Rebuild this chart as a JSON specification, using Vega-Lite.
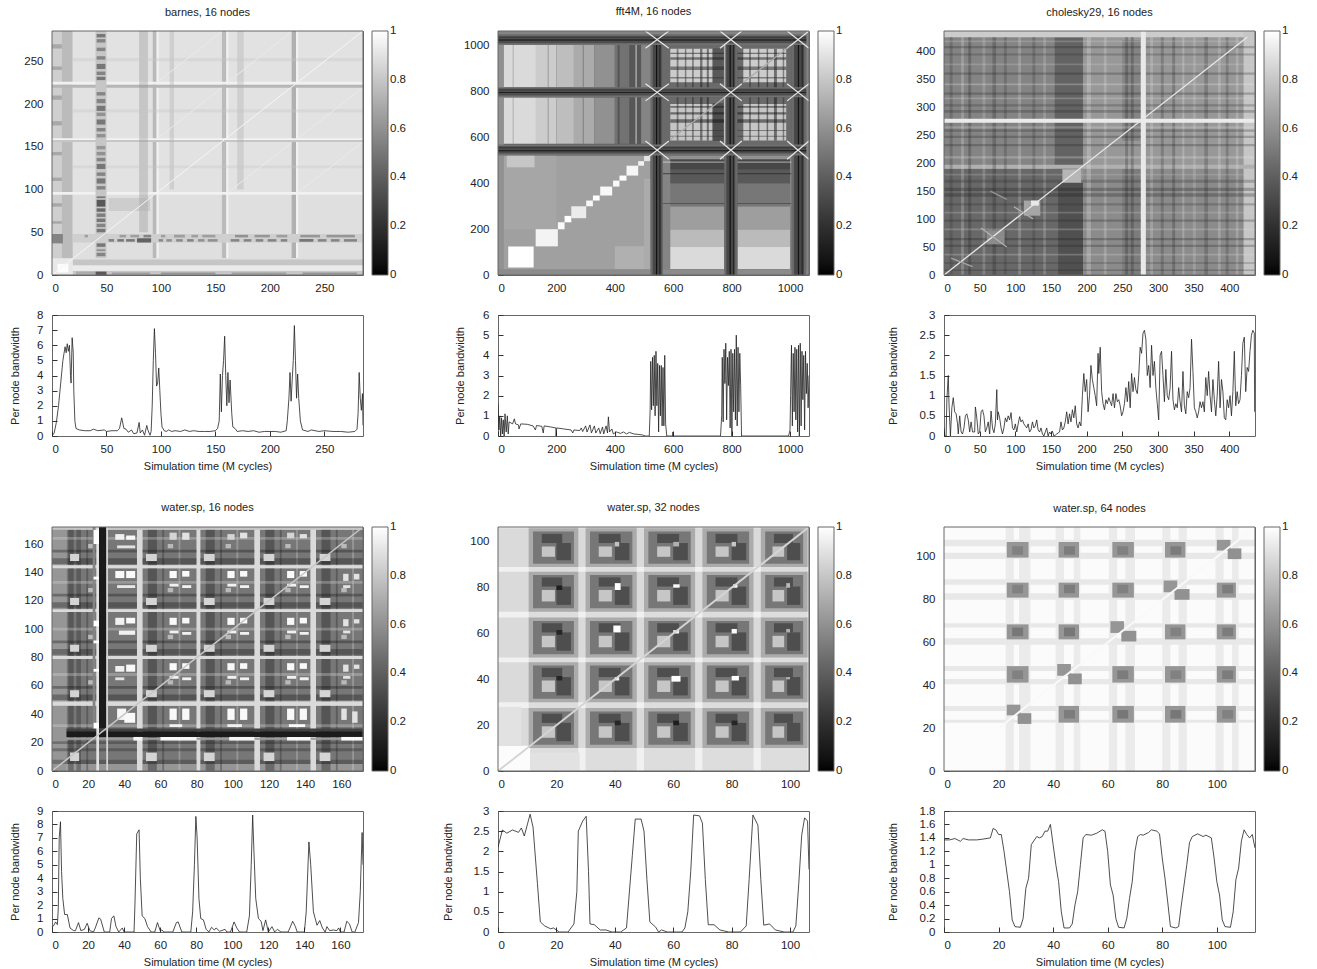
{"$schema":"https://vega.github.io/schema/vega-lite/v6.json","background":"white","padding":{"left":8,"top":5,"right":5,"bottom":5},
"config":{"font":"Liberation Sans","view":{"stroke":"#666"},"axis":{"grid":false,"domain":false,"tickSize":-5,"tickColor":"#333","labelFontSize":11.5,"labelColor":"#222","titleFontSize":11,"titleFontWeight":"normal","titleColor":"#222","zindex":1},"axisX":{"labelPadding":12,"titlePadding":6},"axisY":{"labelPadding":14},"title":{"fontSize":11,"fontWeight":"normal","color":"#222","offset":13},"legend":{"gradientLength":244,"gradientThickness":16,"offset":9,"labelFontSize":11.5,"labelColor":"#222","labelOffset":9,"labelOverlap":false,"gradientStrokeColor":"#666","gradientStrokeWidth":1,"gradientOpacity":1,"padding":0}},
"datasets":{
"h1":[{"a":0,"b":285.5,"c":0,"d":285.5,"v":0.89},{"a":0,"b":9,"c":20,"d":285.5,"v":0.83},{"a":9,"b":19,"c":20,"d":285.5,"v":0.76},{"a":19,"b":285.5,"c":97,"d":285.5,"v":0.9},{"a":50,"b":95,"c":50,"d":95,"v":0.92},{"a":19,"b":285.5,"c":48,"d":95,"v":0.89},{"a":92.5,"b":96,"c":20,"d":285.5,"v":0.75},{"a":156,"b":160,"c":20,"d":285.5,"v":0.76},{"a":220,"b":224,"c":20,"d":285.5,"v":0.72},{"a":96,"b":98,"c":20,"d":285.5,"v":0.95},{"a":160,"b":162,"c":20,"d":285.5,"v":0.95},{"a":224,"b":226,"c":20,"d":285.5,"v":0.95},{"a":0,"b":285.5,"c":94,"d":97,"v":0.95},{"a":0,"b":285.5,"c":158,"d":160,"v":0.96},{"a":0,"b":285.5,"c":155.5,"d":158,"v":0.8},{"a":0,"b":285.5,"c":219,"d":223,"v":0.74},{"a":0,"b":285.5,"c":223,"d":226,"v":0.95},{"a":19,"b":285.5,"c":11,"d":18,"v":0.8},{"a":19,"b":285.5,"c":0,"d":5,"v":0.8},{"a":0,"b":285.5,"c":5,"d":11,"v":0.93},{"a":0,"b":19,"c":0,"d":19,"v":0.92},{"a":5,"b":15,"c":3,"d":13,"v":0.99},{"a":40,"b":50,"c":20,"d":285.5,"v":0.8},{"a":19,"b":285.5,"c":38,"d":48,"v":0.83},{"a":0,"b":10,"c":37,"d":48,"v":0.55}],
"p1":[{"a":80,"b":88,"c":50,"d":285.5,"v":0.6},{"a":108,"b":112,"c":100,"d":285.5,"v":0.7},{"a":170,"b":176,"c":100,"d":285.5,"v":0.7},{"a":0,"b":9,"c":60,"d":63,"v":0.4},{"a":0,"b":9,"c":80,"d":84,"v":0.4},{"a":0,"b":9,"c":110,"d":114,"v":0.4},{"a":0,"b":9,"c":140,"d":144,"v":0.4},{"a":0,"b":9,"c":175,"d":180,"v":0.4},{"a":0,"b":9,"c":205,"d":210,"v":0.4},{"a":0,"b":9,"c":240,"d":244,"v":0.4},{"a":0,"b":9,"c":265,"d":270,"v":0.4},{"a":52,"b":90,"c":75,"d":90,"v":0.7},{"a":19,"b":285.5,"c":125,"d":128,"v":0.8},{"a":19,"b":285.5,"c":190,"d":194,"v":0.8},{"a":19,"b":285.5,"c":250,"d":254,"v":0.8}],
"t1":[{"a":41,"b":49,"c":22,"d":26,"v":0.55},{"a":41,"b":49,"c":28,"d":30,"v":0.6},{"a":41,"b":49,"c":33,"d":37,"v":0.5},{"a":41,"b":49,"c":50,"d":54,"v":0.5},{"a":41,"b":49,"c":56,"d":60,"v":0.55},{"a":41,"b":49,"c":62,"d":66,"v":0.5},{"a":41,"b":49,"c":68,"d":72,"v":0.52},{"a":41,"b":49,"c":74,"d":78,"v":0.45},{"a":41,"b":49,"c":80,"d":88,"v":0.38},{"a":41,"b":49,"c":90,"d":92,"v":0.5},{"a":41,"b":49,"c":100,"d":104,"v":0.55},{"a":41,"b":49,"c":107,"d":113,"v":0.5},{"a":41,"b":49,"c":116,"d":120,"v":0.55},{"a":41,"b":49,"c":124,"d":130,"v":0.5},{"a":41,"b":49,"c":133,"d":137,"v":0.55},{"a":41,"b":49,"c":140,"d":144,"v":0.6},{"a":41,"b":49,"c":147,"d":151,"v":0.62},{"a":41,"b":49,"c":161,"d":165,"v":0.6},{"a":41,"b":49,"c":168,"d":172,"v":0.55},{"a":41,"b":49,"c":176,"d":182,"v":0.5},{"a":41,"b":49,"c":186,"d":190,"v":0.6},{"a":41,"b":49,"c":192,"d":198,"v":0.5},{"a":41,"b":49,"c":201,"d":206,"v":0.55},{"a":41,"b":49,"c":210,"d":214,"v":0.55},{"a":41,"b":49,"c":228,"d":232,"v":0.5},{"a":41,"b":49,"c":234,"d":238,"v":0.55},{"a":41,"b":49,"c":241,"d":247,"v":0.5},{"a":41,"b":49,"c":252,"d":256,"v":0.55},{"a":41,"b":49,"c":262,"d":266,"v":0.55},{"a":41,"b":49,"c":272,"d":276,"v":0.55},{"a":41,"b":49,"c":278,"d":282,"v":0.5},
{"a":52,"b":57,"c":39,"d":42,"v":0.55},{"a":60,"b":66,"c":39,"d":42,"v":0.5},{"a":68,"b":76,"c":39,"d":42,"v":0.5},{"a":78,"b":91,"c":38,"d":43,"v":0.42},{"a":98,"b":102,"c":39,"d":42,"v":0.58},{"a":105,"b":110,"c":39,"d":42,"v":0.6},{"a":114,"b":120,"c":39,"d":42,"v":0.58},{"a":124,"b":130,"c":39,"d":42,"v":0.55},{"a":134,"b":140,"c":39,"d":42,"v":0.6},{"a":143,"b":152,"c":39,"d":42,"v":0.6},{"a":164,"b":172,"c":39,"d":42,"v":0.55},{"a":176,"b":183,"c":39,"d":42,"v":0.55},{"a":187,"b":194,"c":39,"d":42,"v":0.55},{"a":198,"b":206,"c":39,"d":42,"v":0.55},{"a":210,"b":216,"c":39,"d":42,"v":0.55},{"a":227,"b":240,"c":39,"d":42,"v":0.5},{"a":244,"b":252,"c":39,"d":42,"v":0.55},{"a":256,"b":264,"c":39,"d":42,"v":0.55},{"a":268,"b":280,"c":39,"d":42,"v":0.55},
{"a":30,"b":33,"c":44,"d":47,"v":0.65},{"a":62,"b":68,"c":44,"d":47,"v":0.65},{"a":72,"b":80,"c":44,"d":47,"v":0.65},{"a":84,"b":91,"c":44,"d":47,"v":0.55},{"a":100,"b":104,"c":44,"d":47,"v":0.65},{"a":112,"b":122,"c":44,"d":47,"v":0.65},{"a":128,"b":134,"c":44,"d":47,"v":0.65},{"a":138,"b":150,"c":44,"d":47,"v":0.65},{"a":168,"b":180,"c":44,"d":47,"v":0.6},{"a":186,"b":200,"c":44,"d":47,"v":0.62},{"a":206,"b":216,"c":44,"d":47,"v":0.65},{"a":228,"b":246,"c":44,"d":47,"v":0.62},{"a":252,"b":278,"c":44,"d":47,"v":0.62},
{"a":22,"b":40,"c":1,"d":4,"v":0.7},{"a":40,"b":50,"c":0,"d":4,"v":0.38},{"a":55,"b":90,"c":1,"d":3,"v":0.65},{"a":100,"b":150,"c":1,"d":3,"v":0.62},{"a":165,"b":215,"c":1,"d":3,"v":0.65},{"a":230,"b":280,"c":1,"d":3,"v":0.62}],
"d1":[{"a":0,"b":285,"c":0,"d":285,"v":0.97},{"a":97,"b":156,"c":160,"d":219,"v":0.93},{"a":97,"b":156,"c":226,"d":285,"v":0.93},{"a":162,"b":220,"c":97,"d":155,"v":0.93},{"a":162,"b":220,"c":226,"d":285,"v":0.93},{"a":226,"b":285,"c":97,"d":155,"v":0.93},{"a":226,"b":285,"c":160,"d":219,"v":0.93}],
"h2":[{"a":0,"b":1065,"c":0,"d":1065,"v":0.4},{"a":0,"b":522,"c":0,"d":522,"v":0.66},{"a":20,"b":200,"c":200,"d":522,"v":0.68},{"a":30,"b":125,"c":470,"d":522,"v":0.8},{"a":400,"b":522,"c":25,"d":125,"v":0.72},{"a":500,"b":522,"c":25,"d":420,"v":0.7},{"a":0,"b":20,"c":0,"d":1065,"v":0.6},
{"a":20,"b":130,"c":573,"d":775,"v":0.87},{"a":130,"b":200,"c":573,"d":775,"v":0.82},{"a":200,"b":260,"c":573,"d":775,"v":0.77},{"a":260,"b":330,"c":573,"d":775,"v":0.7},{"a":330,"b":400,"c":573,"d":775,"v":0.6},{"a":400,"b":450,"c":573,"d":775,"v":0.48},{"a":450,"b":490,"c":573,"d":775,"v":0.37},{"a":490,"b":525,"c":573,"d":775,"v":0.55},
{"a":20,"b":130,"c":820,"d":1004,"v":0.87},{"a":130,"b":200,"c":820,"d":1004,"v":0.82},{"a":200,"b":260,"c":820,"d":1004,"v":0.77},{"a":260,"b":330,"c":820,"d":1004,"v":0.7},{"a":330,"b":400,"c":820,"d":1004,"v":0.6},{"a":400,"b":450,"c":820,"d":1004,"v":0.48},{"a":450,"b":490,"c":820,"d":1004,"v":0.37},{"a":490,"b":525,"c":820,"d":1004,"v":0.55},
{"a":565,"b":775,"c":25,"d":125,"v":0.87},{"a":565,"b":775,"c":125,"d":200,"v":0.76},{"a":565,"b":775,"c":200,"d":300,"v":0.65},{"a":565,"b":775,"c":300,"d":400,"v":0.5},{"a":565,"b":775,"c":400,"d":460,"v":0.38},{"a":565,"b":775,"c":460,"d":505,"v":0.3},{"a":565,"b":775,"c":505,"d":522,"v":0.6},
{"a":820,"b":1005,"c":25,"d":125,"v":0.87},{"a":820,"b":1005,"c":125,"d":200,"v":0.76},{"a":820,"b":1005,"c":200,"d":300,"v":0.65},{"a":820,"b":1005,"c":300,"d":400,"v":0.5},{"a":820,"b":1005,"c":400,"d":460,"v":0.38},{"a":820,"b":1005,"c":460,"d":505,"v":0.3},{"a":820,"b":1005,"c":505,"d":522,"v":0.6},
{"a":565,"b":590,"c":25,"d":522,"v":0.55},{"a":1000,"b":1010,"c":25,"d":522,"v":0.55},
{"a":565,"b":775,"c":570,"d":776,"v":0.45},{"a":820,"b":1005,"c":570,"d":776,"v":0.45},{"a":565,"b":775,"c":820,"d":1004,"v":0.45},{"a":820,"b":1005,"c":820,"d":1004,"v":0.45},
{"a":590,"b":735,"c":587,"d":746,"v":0.8},{"a":840,"b":987,"c":587,"d":746,"v":0.8},{"a":590,"b":735,"c":841,"d":987,"v":0.82},{"a":840,"b":987,"c":841,"d":987,"v":0.82},
{"a":735,"b":772,"c":585,"d":750,"v":0.33},{"a":735,"b":772,"c":838,"d":990,"v":0.38},{"a":0,"b":1065,"c":0,"d":25,"v":0.58},
{"a":35,"b":122,"c":33,"d":124,"v":1},{"a":129,"b":205,"c":125,"d":200,"v":0.96},{"a":205,"b":228,"c":200,"d":230,"v":0.98},{"a":228,"b":251,"c":230,"d":258,"v":1},{"a":251,"b":302,"c":248,"d":300,"v":0.93},{"a":302,"b":325,"c":300,"d":325,"v":0.97},{"a":325,"b":348,"c":325,"d":347,"v":1},{"a":350,"b":391,"c":347,"d":386,"v":0.98},{"a":394,"b":416,"c":386,"d":412,"v":0.98},{"a":416,"b":440,"c":412,"d":434,"v":1},{"a":440,"b":480,"c":434,"d":477,"v":0.97},{"a":480,"b":500,"c":477,"d":497,"v":0.95},{"a":500,"b":522,"c":497,"d":520,"v":0.9}],
"p2":[{"a":612,"b":618,"c":587,"d":987,"v":0.2},{"a":640,"b":645,"c":587,"d":987,"v":0.2},{"a":665,"b":670,"c":587,"d":987,"v":0.1},{"a":692,"b":700,"c":587,"d":987,"v":0.1},{"a":715,"b":722,"c":587,"d":987,"v":0.1},{"a":860,"b":866,"c":587,"d":987,"v":0.2},{"a":890,"b":895,"c":587,"d":987,"v":0.1},{"a":920,"b":925,"c":587,"d":987,"v":0.1},{"a":945,"b":955,"c":587,"d":987,"v":0.05},{"a":975,"b":980,"c":587,"d":987,"v":0.2},{"a":590,"b":987,"c":603,"d":608,"v":0.2},{"a":590,"b":987,"c":628,"d":633,"v":0.2},{"a":590,"b":987,"c":665,"d":680,"v":0.05},{"a":590,"b":987,"c":700,"d":710,"v":0.05},{"a":590,"b":987,"c":730,"d":738,"v":0.1},{"a":590,"b":987,"c":858,"d":864,"v":0.2},{"a":590,"b":987,"c":895,"d":910,"v":0.15},{"a":590,"b":987,"c":940,"d":950,"v":0.1},{"a":590,"b":987,"c":965,"d":970,"v":0.1},{"a":565,"b":1005,"c":310,"d":314,"v":0.2},{"a":565,"b":1005,"c":440,"d":445,"v":0.1},{"a":565,"b":1005,"c":490,"d":495,"v":0.95},{"a":50,"b":54,"c":573,"d":1004,"v":0.6},{"a":170,"b":174,"c":573,"d":1004,"v":0.5},{"a":290,"b":294,"c":573,"d":1004,"v":0.4},{"a":410,"b":416,"c":573,"d":1004,"v":0.2},{"a":470,"b":476,"c":573,"d":1004,"v":0.9}],
"t2":[{"a":522,"b":565,"c":0,"d":1065,"v":0.45},{"a":530,"b":560,"c":0,"d":1065,"v":0.3},{"a":541,"b":545,"c":0,"d":1065,"v":0.05},{"a":553,"b":556,"c":0,"d":1065,"v":0.12},{"a":775,"b":820,"c":0,"d":1065,"v":0.45},{"a":782,"b":812,"c":0,"d":1065,"v":0.3},{"a":793,"b":797,"c":0,"d":1065,"v":0.05},{"a":805,"b":808,"c":0,"d":1065,"v":0.12},{"a":1005,"b":1056,"c":0,"d":1065,"v":0.45},{"a":1014,"b":1048,"c":0,"d":1065,"v":0.3},{"a":1027,"b":1031,"c":0,"d":1065,"v":0.05},{"a":1040,"b":1043,"c":0,"d":1065,"v":0.12},
{"a":0,"b":1065,"c":522,"d":570,"v":0.48},{"a":0,"b":1065,"c":530,"d":562,"v":0.33},{"a":0,"b":1065,"c":540,"d":544,"v":0.06},{"a":0,"b":1065,"c":553,"d":556,"v":0.18},{"a":0,"b":1065,"c":776,"d":820,"v":0.48},{"a":0,"b":1065,"c":784,"d":814,"v":0.33},{"a":0,"b":1065,"c":794,"d":798,"v":0.06},{"a":0,"b":1065,"c":806,"d":809,"v":0.18},{"a":0,"b":1065,"c":1004,"d":1052,"v":0.48},{"a":0,"b":1065,"c":1012,"d":1044,"v":0.33},{"a":0,"b":1065,"c":1024,"d":1028,"v":0.05},{"a":0,"b":1065,"c":1035,"d":1038,"v":0.18},{"a":1056,"b":1065,"c":0,"d":1065,"v":0.55},{"a":0,"b":1065,"c":1052,"d":1065,"v":0.55},{"a":775,"b":778,"c":573,"d":776,"v":0.92},{"a":775,"b":778,"c":820,"d":1004,"v":0.85}],
"d2":[{"a":505,"b":585,"c":505,"d":585,"v":0.92},{"a":505,"b":585,"c":585,"d":505,"v":0.92},{"a":760,"b":835,"c":505,"d":585,"v":0.92},{"a":760,"b":835,"c":585,"d":505,"v":0.92},{"a":990,"b":1065,"c":505,"d":585,"v":0.92},{"a":990,"b":1065,"c":585,"d":505,"v":0.92},{"a":505,"b":585,"c":760,"d":835,"v":0.92},{"a":505,"b":585,"c":835,"d":760,"v":0.92},{"a":760,"b":835,"c":760,"d":835,"v":0.92},{"a":760,"b":835,"c":835,"d":760,"v":0.92},{"a":990,"b":1065,"c":760,"d":835,"v":0.92},{"a":990,"b":1065,"c":835,"d":760,"v":0.92},{"a":505,"b":585,"c":990,"d":1065,"v":0.92},{"a":505,"b":585,"c":1065,"d":990,"v":0.92},{"a":760,"b":835,"c":990,"d":1065,"v":0.92},{"a":760,"b":835,"c":1065,"d":990,"v":0.92},{"a":990,"b":1065,"c":990,"d":1065,"v":0.92},{"a":990,"b":1065,"c":1065,"d":990,"v":0.92},{"a":590,"b":775,"c":590,"d":775,"v":0.7},{"a":840,"b":1000,"c":840,"d":1000,"v":0.7}],
"h3":[{"a":0,"b":436,"c":0,"d":436,"v":0.62},{"a":0,"b":190,"c":0,"d":190,"v":0.44},{"a":0,"b":155,"c":190,"d":425,"v":0.55},{"a":155,"b":195,"c":190,"d":425,"v":0.42},{"a":160,"b":195,"c":0,"d":165,"v":0.34},{"a":195,"b":436,"c":190,"d":425,"v":0.63},{"a":195,"b":436,"c":0,"d":190,"v":0.58},{"a":250,"b":275,"c":0,"d":190,"v":0.52},{"a":0,"b":436,"c":425,"d":436,"v":0.82},{"a":420,"b":436,"c":0,"d":436,"v":0.8},{"a":250,"b":275,"c":240,"d":420,"v":0.55},{"a":0,"b":436,"c":190,"d":197,"v":0.72}],
"p3":[{"a":8,"b":12,"c":0,"d":425,"v":0.2},{"a":24,"b":28,"c":0,"d":425,"v":0.9},{"a":34,"b":38,"c":0,"d":425,"v":0.1},{"a":54,"b":58,"c":0,"d":425,"v":0.85},{"a":68,"b":73,"c":0,"d":425,"v":0.1},{"a":84,"b":88,"c":0,"d":425,"v":0.2},{"a":104,"b":108,"c":0,"d":425,"v":0.9},{"a":124,"b":128,"c":0,"d":425,"v":0.2},{"a":139,"b":143,"c":0,"d":425,"v":0.85},{"a":200,"b":206,"c":0,"d":425,"v":0.95},{"a":224,"b":228,"c":0,"d":425,"v":0.9},{"a":254,"b":258,"c":0,"d":425,"v":0.1},{"a":262,"b":266,"c":0,"d":425,"v":0.1},{"a":289,"b":293,"c":0,"d":425,"v":0.9},{"a":304,"b":308,"c":0,"d":425,"v":0.15},{"a":320,"b":324,"c":0,"d":425,"v":0.1},{"a":334,"b":337,"c":0,"d":425,"v":0.95},{"a":349,"b":353,"c":0,"d":425,"v":0.85},{"a":365,"b":370,"c":0,"d":425,"v":0.15},{"a":384,"b":388,"c":0,"d":425,"v":0.9},{"a":395,"b":399,"c":0,"d":425,"v":0.2},{"a":409,"b":413,"c":0,"d":425,"v":0.9},
{"a":0,"b":436,"c":7,"d":10,"v":0.1},{"a":0,"b":436,"c":20,"d":23,"v":0.15},{"a":0,"b":436,"c":35,"d":38,"v":0.9},{"a":0,"b":436,"c":50,"d":54,"v":0.1},{"a":0,"b":436,"c":62,"d":66,"v":0.05},{"a":0,"b":436,"c":80,"d":83,"v":0.9},{"a":0,"b":436,"c":95,"d":99,"v":0.1},{"a":0,"b":436,"c":110,"d":113,"v":0.85},{"a":0,"b":436,"c":124,"d":128,"v":0.15},{"a":0,"b":436,"c":140,"d":146,"v":0.05},{"a":0,"b":436,"c":150,"d":156,"v":0.05},{"a":0,"b":436,"c":165,"d":170,"v":0.15},{"a":0,"b":436,"c":178,"d":181,"v":0.8},{"a":0,"b":436,"c":208,"d":212,"v":0.95},{"a":0,"b":436,"c":230,"d":234,"v":0.1},{"a":0,"b":436,"c":245,"d":249,"v":0.1},{"a":0,"b":436,"c":256,"d":260,"v":0.1},{"a":0,"b":436,"c":262,"d":266,"v":0.9},{"a":0,"b":436,"c":290,"d":295,"v":0.1},{"a":0,"b":436,"c":301,"d":305,"v":0.15},{"a":0,"b":436,"c":314,"d":317,"v":0.9},{"a":0,"b":436,"c":322,"d":326,"v":0.1},{"a":0,"b":436,"c":339,"d":342,"v":0.98},{"a":0,"b":436,"c":358,"d":362,"v":0.1},{"a":0,"b":436,"c":375,"d":378,"v":0.85},{"a":0,"b":436,"c":392,"d":396,"v":0.15},{"a":0,"b":436,"c":405,"d":409,"v":0.1},{"a":0,"b":436,"c":416,"d":419,"v":0.85}],
"t3":[{"a":276,"b":283,"c":0,"d":436,"v":0.92},{"a":0,"b":436,"c":272,"d":279,"v":0.93},{"a":166,"b":192,"c":165,"d":189,"v":0.74},{"a":112,"b":135,"c":106,"d":133,"v":0.68},{"a":122,"b":133,"c":124,"d":133,"v":0.92},{"a":60,"b":85,"c":55,"d":80,"v":0.58}],
"d3":[{"a":0,"b":425,"c":0,"d":425,"v":0.92},{"a":52,"b":88,"c":84,"d":50,"v":0.72},{"a":98,"b":125,"c":122,"d":100,"v":0.72},{"a":10,"b":40,"c":30,"d":15,"v":0.68},{"a":65,"b":88,"c":150,"d":135,"v":0.62}],
"h4":[{"a":0,"b":172,"c":0,"d":172,"v":0.8},{"a":0,"b":8,"c":0,"d":172,"v":0.62},{"a":8,"b":172,"c":0,"d":5,"v":0.62},{"a":8,"b":47,"c":5,"d":46,"v":0.5},{"a":50,"b":80,"c":5,"d":46,"v":0.5},{"a":82,"b":112,"c":5,"d":46,"v":0.5},{"a":115,"b":143,"c":5,"d":46,"v":0.5},{"a":146,"b":172,"c":5,"d":46,"v":0.5},{"a":8,"b":47,"c":49,"d":79,"v":0.5},{"a":50,"b":80,"c":49,"d":79,"v":0.5},{"a":82,"b":112,"c":49,"d":79,"v":0.5},{"a":115,"b":143,"c":49,"d":79,"v":0.5},{"a":146,"b":172,"c":49,"d":79,"v":0.5},{"a":8,"b":47,"c":81,"d":112,"v":0.5},{"a":50,"b":80,"c":81,"d":112,"v":0.5},{"a":82,"b":112,"c":81,"d":112,"v":0.5},{"a":115,"b":143,"c":81,"d":112,"v":0.5},{"a":146,"b":172,"c":81,"d":112,"v":0.5},{"a":8,"b":47,"c":114,"d":143,"v":0.5},{"a":50,"b":80,"c":114,"d":143,"v":0.5},{"a":82,"b":112,"c":114,"d":143,"v":0.5},{"a":115,"b":143,"c":114,"d":143,"v":0.5},{"a":146,"b":172,"c":114,"d":143,"v":0.5},{"a":8,"b":47,"c":145,"d":170,"v":0.5},{"a":50,"b":80,"c":145,"d":170,"v":0.5},{"a":82,"b":112,"c":145,"d":170,"v":0.5},{"a":115,"b":143,"c":145,"d":170,"v":0.5},{"a":146,"b":172,"c":145,"d":170,"v":0.5}],
"p4":[{"a":9,"b":12,"c":0,"d":172,"v":0.05},{"a":13.5,"b":16,"c":0,"d":172,"v":0.1},{"a":19,"b":20,"c":0,"d":172,"v":0.1},{"a":53,"b":58,"c":0,"d":172,"v":0.02},{"a":61,"b":62,"c":0,"d":172,"v":0.1},{"a":70,"b":71,"c":0,"d":172,"v":0.9},{"a":85,"b":90,"c":0,"d":172,"v":0.02},{"a":93,"b":94,"c":0,"d":172,"v":0.1},{"a":102,"b":103,"c":0,"d":172,"v":0.9},{"a":118,"b":123,"c":0,"d":172,"v":0.02},{"a":126,"b":127,"c":0,"d":172,"v":0.1},{"a":135,"b":136,"c":0,"d":172,"v":0.9},{"a":149,"b":154,"c":0,"d":172,"v":0.02},{"a":157,"b":158,"c":0,"d":172,"v":0.1},{"a":166,"b":167,"c":0,"d":172,"v":0.9},
{"a":0,"b":172,"c":5,"d":8,"v":0.1},{"a":0,"b":172,"c":14,"d":16,"v":0.1},{"a":0,"b":172,"c":19,"d":21,"v":0.1},{"a":0,"b":172,"c":31,"d":33,"v":0.9},{"a":0,"b":172,"c":50,"d":54,"v":0.02},{"a":0,"b":172,"c":58,"d":60,"v":0.02},{"a":0,"b":172,"c":67,"d":69,"v":0.9},{"a":0,"b":172,"c":82,"d":86,"v":0.02},{"a":0,"b":172,"c":90,"d":92,"v":0.02},{"a":0,"b":172,"c":99,"d":101,"v":0.9},{"a":0,"b":172,"c":115,"d":119,"v":0.02},{"a":0,"b":172,"c":123,"d":125,"v":0.02},{"a":0,"b":172,"c":132,"d":134,"v":0.9},{"a":0,"b":172,"c":146,"d":150,"v":0.02},{"a":0,"b":172,"c":154,"d":156,"v":0.02},{"a":0,"b":172,"c":163,"d":165,"v":0.9}],
"t4":[{"a":47,"b":50,"c":0,"d":172,"v":0.87},{"a":80,"b":82,"c":0,"d":172,"v":0.87},{"a":112,"b":115,"c":0,"d":172,"v":0.87},{"a":143,"b":146,"c":0,"d":172,"v":0.87},{"a":0,"b":172,"c":46,"d":49,"v":0.87},{"a":0,"b":172,"c":79,"d":81,"v":0.87},{"a":0,"b":172,"c":112,"d":114,"v":0.87},{"a":0,"b":172,"c":143,"d":145,"v":0.87},{"a":0,"b":172,"c":170,"d":172,"v":0.8},
{"a":10,"b":15,"c":7,"d":13,"v":0.85},{"a":52,"b":58,"c":7,"d":13,"v":0.85},{"a":84,"b":90,"c":7,"d":13,"v":0.85},{"a":117,"b":123,"c":7,"d":13,"v":0.85},{"a":148,"b":154,"c":7,"d":13,"v":0.85},{"a":10,"b":15,"c":52,"d":57,"v":0.85},{"a":52,"b":58,"c":52,"d":57,"v":0.85},{"a":84,"b":90,"c":52,"d":57,"v":0.85},{"a":117,"b":123,"c":52,"d":57,"v":0.85},{"a":148,"b":154,"c":52,"d":57,"v":0.85},{"a":10,"b":15,"c":84,"d":89,"v":0.85},{"a":52,"b":58,"c":84,"d":89,"v":0.85},{"a":84,"b":90,"c":84,"d":89,"v":0.85},{"a":117,"b":123,"c":84,"d":89,"v":0.85},{"a":148,"b":154,"c":84,"d":89,"v":0.85},{"a":10,"b":15,"c":117,"d":122,"v":0.85},{"a":52,"b":58,"c":117,"d":122,"v":0.85},{"a":84,"b":90,"c":117,"d":122,"v":0.85},{"a":117,"b":123,"c":117,"d":122,"v":0.85},{"a":148,"b":154,"c":117,"d":122,"v":0.85},{"a":10,"b":15,"c":148,"d":153,"v":0.85},{"a":52,"b":58,"c":148,"d":153,"v":0.85},{"a":84,"b":90,"c":148,"d":153,"v":0.85},{"a":117,"b":123,"c":148,"d":153,"v":0.85},{"a":148,"b":154,"c":148,"d":153,"v":0.85},
{"a":20,"b":23,"c":61,"d":64,"v":0.75},{"a":64,"b":67,"c":61,"d":64,"v":0.75},{"a":96,"b":99,"c":61,"d":64,"v":0.75},{"a":129,"b":132,"c":61,"d":64,"v":0.75},{"a":160,"b":163,"c":61,"d":64,"v":0.75},{"a":20,"b":23,"c":93,"d":96,"v":0.75},{"a":64,"b":67,"c":93,"d":96,"v":0.75},{"a":96,"b":99,"c":93,"d":96,"v":0.75},{"a":129,"b":132,"c":93,"d":96,"v":0.75},{"a":160,"b":163,"c":93,"d":96,"v":0.75},{"a":20,"b":23,"c":126,"d":129,"v":0.75},{"a":64,"b":67,"c":126,"d":129,"v":0.75},{"a":96,"b":99,"c":126,"d":129,"v":0.75},{"a":129,"b":132,"c":126,"d":129,"v":0.75},{"a":160,"b":163,"c":126,"d":129,"v":0.75},{"a":20,"b":23,"c":157,"d":160,"v":0.75},{"a":64,"b":67,"c":157,"d":160,"v":0.75},{"a":96,"b":99,"c":157,"d":160,"v":0.75},{"a":129,"b":132,"c":157,"d":160,"v":0.75},{"a":160,"b":163,"c":157,"d":160,"v":0.75},
{"a":65,"b":69,"c":71,"d":76,"v":0.98},{"a":72,"b":76,"c":72,"d":76,"v":0.98},{"a":65,"b":70,"c":65,"d":67,"v":0.95},{"a":72,"b":77,"c":64,"d":66,"v":0.95},{"a":97,"b":101,"c":71,"d":76,"v":0.98},{"a":104,"b":108,"c":72,"d":76,"v":0.98},{"a":97,"b":102,"c":65,"d":67,"v":0.95},{"a":104,"b":109,"c":64,"d":66,"v":0.95},{"a":130,"b":134,"c":71,"d":76,"v":0.98},{"a":137,"b":141,"c":72,"d":76,"v":0.98},{"a":130,"b":135,"c":65,"d":67,"v":0.95},{"a":137,"b":142,"c":64,"d":66,"v":0.95},{"a":161,"b":164,"c":70,"d":75,"v":0.9},{"a":167,"b":170,"c":72,"d":75,"v":0.9},{"a":161,"b":165,"c":65,"d":67,"v":0.9},
{"a":65,"b":69,"c":103,"d":108,"v":0.98},{"a":72,"b":76,"c":104,"d":108,"v":0.98},{"a":65,"b":70,"c":97,"d":99,"v":0.95},{"a":72,"b":77,"c":96,"d":98,"v":0.95},{"a":97,"b":101,"c":103,"d":108,"v":0.98},{"a":104,"b":108,"c":104,"d":108,"v":0.98},{"a":97,"b":102,"c":97,"d":99,"v":0.95},{"a":104,"b":109,"c":96,"d":98,"v":0.95},{"a":130,"b":134,"c":103,"d":108,"v":0.98},{"a":137,"b":141,"c":104,"d":108,"v":0.98},{"a":130,"b":135,"c":97,"d":99,"v":0.95},{"a":137,"b":142,"c":96,"d":98,"v":0.95},{"a":161,"b":164,"c":102,"d":107,"v":0.9},{"a":167,"b":170,"c":104,"d":107,"v":0.9},{"a":161,"b":165,"c":97,"d":99,"v":0.9},
{"a":65,"b":69,"c":136,"d":141,"v":0.98},{"a":72,"b":76,"c":137,"d":141,"v":0.98},{"a":65,"b":70,"c":130,"d":132,"v":0.95},{"a":72,"b":77,"c":129,"d":131,"v":0.95},{"a":97,"b":101,"c":136,"d":141,"v":0.98},{"a":104,"b":108,"c":137,"d":141,"v":0.98},{"a":97,"b":102,"c":130,"d":132,"v":0.95},{"a":104,"b":109,"c":129,"d":131,"v":0.95},{"a":130,"b":134,"c":136,"d":141,"v":0.98},{"a":137,"b":141,"c":137,"d":141,"v":0.98},{"a":130,"b":135,"c":130,"d":132,"v":0.95},{"a":137,"b":142,"c":129,"d":131,"v":0.95},{"a":161,"b":164,"c":134,"d":139,"v":0.9},{"a":167,"b":170,"c":135,"d":139,"v":0.9},{"a":161,"b":165,"c":129,"d":131,"v":0.9},
{"a":65,"b":69,"c":163,"d":168,"v":0.85},{"a":72,"b":76,"c":163,"d":168,"v":0.9},{"a":97,"b":101,"c":163,"d":167,"v":0.85},{"a":104,"b":108,"c":164,"d":168,"v":0.9},{"a":130,"b":134,"c":164,"d":168,"v":0.85},{"a":137,"b":141,"c":164,"d":167,"v":0.9},
{"a":35,"b":40,"c":70,"d":74,"v":0.95},{"a":41,"b":46,"c":70,"d":75,"v":0.98},{"a":35,"b":40,"c":64,"d":66,"v":0.9},{"a":35,"b":40,"c":103,"d":108,"v":0.95},{"a":41,"b":46,"c":104,"d":108,"v":0.98},{"a":37,"b":46,"c":96,"d":99,"v":0.95},{"a":35,"b":40,"c":136,"d":141,"v":0.98},{"a":41,"b":46,"c":136,"d":141,"v":0.98},{"a":36,"b":46,"c":129,"d":131,"v":0.92},{"a":35,"b":40,"c":163,"d":167,"v":0.95},{"a":41,"b":46,"c":163,"d":166,"v":0.98},{"a":36,"b":46,"c":157,"d":159,"v":0.9},
{"a":65,"b":69,"c":36,"d":44,"v":0.98},{"a":72,"b":76,"c":36,"d":44,"v":0.98},{"a":65,"b":72,"c":31,"d":33,"v":0.95},{"a":97,"b":101,"c":36,"d":44,"v":0.98},{"a":104,"b":108,"c":36,"d":44,"v":0.98},{"a":97,"b":105,"c":31,"d":33,"v":0.95},{"a":130,"b":134,"c":36,"d":44,"v":0.98},{"a":137,"b":141,"c":36,"d":44,"v":0.98},{"a":131,"b":140,"c":31,"d":33,"v":0.98},{"a":160,"b":163,"c":36,"d":44,"v":0.9},{"a":166,"b":169,"c":34,"d":42,"v":0.9},{"a":36,"b":41,"c":36,"d":44,"v":0.97},{"a":40,"b":46,"c":34,"d":41,"v":0.98},
{"a":8,"b":172,"c":28,"d":30,"v":0.28},{"a":8,"b":172,"c":24,"d":28,"v":0.1},{"a":8,"b":172,"c":22,"d":23.5,"v":0.65},{"a":60,"b":80,"c":21.5,"d":24,"v":0.97},{"a":98,"b":112,"c":21.5,"d":24,"v":0.97},{"a":130,"b":143,"c":21.5,"d":24,"v":0.97},{"a":160,"b":172,"c":21.5,"d":24,"v":0.98},{"a":45,"b":50,"c":21.5,"d":24,"v":0.97},{"a":26,"b":30,"c":30,"d":172,"v":0.1},{"a":24.5,"b":26,"c":0,"d":172,"v":0.9},{"a":22.5,"b":24,"c":30,"d":172,"v":0.55},{"a":30,"b":31,"c":0,"d":172,"v":0.85},{"a":23,"b":26,"c":160,"d":170,"v":1},{"a":23,"b":26,"c":135,"d":137,"v":1},{"a":23,"b":26,"c":102,"d":106,"v":1},{"a":23,"b":26,"c":90,"d":92,"v":1},{"a":23,"b":26,"c":70,"d":72,"v":1},{"a":23,"b":26,"c":30,"d":34,"v":1}],
"d4":[{"a":0,"b":172,"c":0,"d":172,"v":0.8}],
"h5":[{"a":0,"b":106.5,"c":0,"d":106.5,"v":0.95},{"a":10.5,"b":27.5,"c":0,"d":106.5,"v":0.88},{"a":30,"b":47.5,"c":0,"d":106.5,"v":0.88},{"a":50,"b":67.5,"c":0,"d":106.5,"v":0.88},{"a":70,"b":87.5,"c":0,"d":106.5,"v":0.88},{"a":90,"b":106,"c":0,"d":106.5,"v":0.88},{"a":0,"b":106.5,"c":10,"d":27.5,"v":0.87},{"a":0,"b":106.5,"c":30,"d":47.5,"v":0.87},{"a":0,"b":106.5,"c":49.5,"d":67,"v":0.87},{"a":0,"b":106.5,"c":69.5,"d":87,"v":0.87},{"a":0,"b":106.5,"c":89,"d":106,"v":0.87},{"a":0,"b":11,"c":0,"d":11,"v":0.99},{"a":11,"b":28,"c":0,"d":8,"v":0.9},{"a":0,"b":8,"c":11,"d":28,"v":0.9},
{"a":10.5,"b":27.5,"c":10,"d":27.5,"v":0.7},{"a":30,"b":47.5,"c":10,"d":27.5,"v":0.7},{"a":50,"b":67.5,"c":10,"d":27.5,"v":0.7},{"a":70,"b":87.5,"c":10,"d":27.5,"v":0.7},{"a":90,"b":106,"c":10,"d":27.5,"v":0.7},{"a":10.5,"b":27.5,"c":30,"d":47.5,"v":0.7},{"a":30,"b":47.5,"c":30,"d":47.5,"v":0.7},{"a":50,"b":67.5,"c":30,"d":47.5,"v":0.7},{"a":70,"b":87.5,"c":30,"d":47.5,"v":0.7},{"a":90,"b":106,"c":30,"d":47.5,"v":0.7},{"a":10.5,"b":27.5,"c":49.5,"d":67,"v":0.7},{"a":30,"b":47.5,"c":49.5,"d":67,"v":0.7},{"a":50,"b":67.5,"c":49.5,"d":67,"v":0.7},{"a":70,"b":87.5,"c":49.5,"d":67,"v":0.7},{"a":90,"b":106,"c":49.5,"d":67,"v":0.7},{"a":10.5,"b":27.5,"c":69.5,"d":87,"v":0.7},{"a":30,"b":47.5,"c":69.5,"d":87,"v":0.7},{"a":50,"b":67.5,"c":69.5,"d":87,"v":0.7},{"a":70,"b":87.5,"c":69.5,"d":87,"v":0.7},{"a":90,"b":106,"c":69.5,"d":87,"v":0.7},{"a":10.5,"b":27.5,"c":89,"d":106,"v":0.7},{"a":30,"b":47.5,"c":89,"d":106,"v":0.7},{"a":50,"b":67.5,"c":89,"d":106,"v":0.7},{"a":70,"b":87.5,"c":89,"d":106,"v":0.7},{"a":90,"b":106,"c":89,"d":106,"v":0.7}],
"t5":[{"a":12,"b":26,"c":11.5,"d":26,"v":0.5},{"a":31.5,"b":46,"c":11.5,"d":26,"v":0.5},{"a":51.5,"b":66,"c":11.5,"d":26,"v":0.5},{"a":71.5,"b":86,"c":11.5,"d":26,"v":0.5},{"a":91.5,"b":104.5,"c":11.5,"d":26,"v":0.5},{"a":12,"b":26,"c":31.5,"d":46,"v":0.5},{"a":31.5,"b":46,"c":31.5,"d":46,"v":0.5},{"a":51.5,"b":66,"c":31.5,"d":46,"v":0.5},{"a":71.5,"b":86,"c":31.5,"d":46,"v":0.5},{"a":91.5,"b":104.5,"c":31.5,"d":46,"v":0.5},{"a":12,"b":26,"c":51,"d":65.5,"v":0.5},{"a":31.5,"b":46,"c":51,"d":65.5,"v":0.5},{"a":51.5,"b":66,"c":51,"d":65.5,"v":0.5},{"a":71.5,"b":86,"c":51,"d":65.5,"v":0.5},{"a":91.5,"b":104.5,"c":51,"d":65.5,"v":0.5},{"a":12,"b":26,"c":71,"d":85.5,"v":0.5},{"a":31.5,"b":46,"c":71,"d":85.5,"v":0.5},{"a":51.5,"b":66,"c":71,"d":85.5,"v":0.5},{"a":71.5,"b":86,"c":71,"d":85.5,"v":0.5},{"a":91.5,"b":104.5,"c":71,"d":85.5,"v":0.5},{"a":12,"b":26,"c":90.5,"d":104.5,"v":0.5},{"a":31.5,"b":46,"c":90.5,"d":104.5,"v":0.5},{"a":51.5,"b":66,"c":90.5,"d":104.5,"v":0.5},{"a":71.5,"b":86,"c":90.5,"d":104.5,"v":0.5},{"a":91.5,"b":104.5,"c":90.5,"d":104.5,"v":0.5},
{"a":15,"b":22,"c":21,"d":25,"v":0.33},{"a":34.5,"b":42,"c":21,"d":25,"v":0.33},{"a":54.5,"b":62,"c":21,"d":25,"v":0.33},{"a":74.5,"b":82,"c":21,"d":25,"v":0.33},{"a":94.5,"b":101,"c":21,"d":25,"v":0.33},{"a":15,"b":22,"c":41,"d":45,"v":0.33},{"a":34.5,"b":42,"c":41,"d":45,"v":0.33},{"a":54.5,"b":62,"c":41,"d":45,"v":0.33},{"a":74.5,"b":82,"c":41,"d":45,"v":0.33},{"a":94.5,"b":101,"c":41,"d":45,"v":0.33},{"a":15,"b":22,"c":60.5,"d":64.5,"v":0.33},{"a":34.5,"b":42,"c":60.5,"d":64.5,"v":0.33},{"a":54.5,"b":62,"c":60.5,"d":64.5,"v":0.33},{"a":74.5,"b":82,"c":60.5,"d":64.5,"v":0.33},{"a":94.5,"b":101,"c":60.5,"d":64.5,"v":0.33},{"a":15,"b":22,"c":80.5,"d":84.5,"v":0.33},{"a":34.5,"b":42,"c":80.5,"d":84.5,"v":0.33},{"a":54.5,"b":62,"c":80.5,"d":84.5,"v":0.33},{"a":74.5,"b":82,"c":80.5,"d":84.5,"v":0.33},{"a":94.5,"b":101,"c":80.5,"d":84.5,"v":0.33},{"a":15,"b":22,"c":99.5,"d":103.5,"v":0.33},{"a":34.5,"b":42,"c":99.5,"d":103.5,"v":0.33},{"a":54.5,"b":62,"c":99.5,"d":103.5,"v":0.33},{"a":74.5,"b":82,"c":99.5,"d":103.5,"v":0.33},{"a":94.5,"b":101,"c":99.5,"d":103.5,"v":0.33},
{"a":20,"b":25,"c":13,"d":21,"v":0.33},{"a":40,"b":45,"c":13,"d":21,"v":0.33},{"a":60,"b":65,"c":13,"d":21,"v":0.33},{"a":80,"b":85,"c":13,"d":21,"v":0.33},{"a":99,"b":103.5,"c":13,"d":21,"v":0.33},{"a":20,"b":25,"c":33,"d":41,"v":0.33},{"a":40,"b":45,"c":33,"d":41,"v":0.33},{"a":60,"b":65,"c":33,"d":41,"v":0.33},{"a":80,"b":85,"c":33,"d":41,"v":0.33},{"a":99,"b":103.5,"c":33,"d":41,"v":0.33},{"a":20,"b":25,"c":52.5,"d":60.5,"v":0.33},{"a":40,"b":45,"c":52.5,"d":60.5,"v":0.33},{"a":60,"b":65,"c":52.5,"d":60.5,"v":0.33},{"a":80,"b":85,"c":52.5,"d":60.5,"v":0.33},{"a":99,"b":103.5,"c":52.5,"d":60.5,"v":0.33},{"a":20,"b":25,"c":72.5,"d":80.5,"v":0.33},{"a":40,"b":45,"c":72.5,"d":80.5,"v":0.33},{"a":60,"b":65,"c":72.5,"d":80.5,"v":0.33},{"a":80,"b":85,"c":72.5,"d":80.5,"v":0.33},{"a":99,"b":103.5,"c":72.5,"d":80.5,"v":0.33},{"a":20,"b":25,"c":92,"d":99.5,"v":0.33},{"a":40,"b":45,"c":92,"d":99.5,"v":0.33},{"a":60,"b":65,"c":92,"d":99.5,"v":0.33},{"a":80,"b":85,"c":92,"d":99.5,"v":0.33},{"a":99,"b":103.5,"c":92,"d":99.5,"v":0.33},
{"a":15,"b":19.5,"c":14.5,"d":19.5,"v":0.8},{"a":34.5,"b":39,"c":14.5,"d":19.5,"v":0.8},{"a":54.5,"b":59,"c":14.5,"d":19.5,"v":0.8},{"a":74.5,"b":79,"c":14.5,"d":19.5,"v":0.8},{"a":94,"b":98,"c":14.5,"d":19.5,"v":0.8},{"a":15,"b":19.5,"c":34.5,"d":39.5,"v":0.8},{"a":34.5,"b":39,"c":34.5,"d":39.5,"v":0.8},{"a":54.5,"b":59,"c":34.5,"d":39.5,"v":0.8},{"a":74.5,"b":79,"c":34.5,"d":39.5,"v":0.8},{"a":94,"b":98,"c":34.5,"d":39.5,"v":0.8},{"a":15,"b":19.5,"c":54,"d":59,"v":0.8},{"a":34.5,"b":39,"c":54,"d":59,"v":0.8},{"a":54.5,"b":59,"c":54,"d":59,"v":0.8},{"a":74.5,"b":79,"c":54,"d":59,"v":0.8},{"a":94,"b":98,"c":54,"d":59,"v":0.8},{"a":15,"b":19.5,"c":74,"d":79,"v":0.8},{"a":34.5,"b":39,"c":74,"d":79,"v":0.8},{"a":54.5,"b":59,"c":74,"d":79,"v":0.8},{"a":74.5,"b":79,"c":74,"d":79,"v":0.8},{"a":94,"b":98,"c":74,"d":79,"v":0.8},{"a":15,"b":19.5,"c":93.5,"d":98,"v":0.8},{"a":34.5,"b":39,"c":93.5,"d":98,"v":0.8},{"a":54.5,"b":59,"c":93.5,"d":98,"v":0.8},{"a":74.5,"b":79,"c":93.5,"d":98,"v":0.8},{"a":94,"b":98,"c":93.5,"d":98,"v":0.8},
{"a":20,"b":22,"c":79,"d":81,"v":0.12},{"a":20,"b":22,"c":59.5,"d":61.5,"v":0.15},{"a":20,"b":22,"c":39.5,"d":41.5,"v":0.15},{"a":40,"b":42,"c":20,"d":22,"v":0.15},{"a":60,"b":62,"c":20,"d":22,"v":0.12},{"a":80,"b":82,"c":20,"d":22,"v":0.15},{"a":40,"b":42,"c":79,"d":82,"v":1},{"a":39.5,"b":42,"c":60.5,"d":63.5,"v":1},{"a":59.4,"b":62.5,"c":39,"d":41.5,"v":1},{"a":80,"b":82.5,"c":39.5,"d":41.5,"v":1},{"a":60,"b":62.2,"c":80,"d":81.5,"v":0.98},{"a":80,"b":81.8,"c":60,"d":62,"v":0.98},{"a":80.5,"b":82,"c":80,"d":81.5,"v":0.98},{"a":60,"b":62,"c":60,"d":61.5,"v":0.95},{"a":40,"b":41.5,"c":39.5,"d":41,"v":0.95},{"a":40,"b":41.5,"c":98,"d":100,"v":0.78},{"a":60,"b":62,"c":98,"d":100,"v":0.72},{"a":80,"b":81.5,"c":98,"d":100,"v":0.8},{"a":98.7,"b":100,"c":80,"d":82,"v":0.75},{"a":98.7,"b":100,"c":60.5,"d":62,"v":0.72},{"a":98.7,"b":100,"c":40,"d":41,"v":0.72}],
"d5":[{"a":0,"b":106.5,"c":0,"d":106.5,"v":0.85}],
"h6":[{"a":0,"b":114,"c":0,"d":114,"v":0.985},{"a":22.6,"b":25.6,"c":0,"d":114,"v":0.93},{"a":27.5,"b":31.7,"c":0,"d":114,"v":0.93},{"a":40.9,"b":44,"c":0,"d":114,"v":0.93},{"a":47.6,"b":50,"c":0,"d":114,"v":0.93},{"a":60.4,"b":63.5,"c":0,"d":114,"v":0.93},{"a":66.5,"b":70,"c":0,"d":114,"v":0.93},{"a":80,"b":83,"c":0,"d":114,"v":0.93},{"a":86,"b":89,"c":0,"d":114,"v":0.93},{"a":99.5,"b":102.5,"c":0,"d":114,"v":0.93},{"a":105.6,"b":108,"c":0,"d":114,"v":0.93},{"a":0,"b":114,"c":105,"d":108,"v":0.92},{"a":0,"b":114,"c":99,"d":102,"v":0.92},{"a":0,"b":114,"c":87,"d":89.6,"v":0.92},{"a":0,"b":114,"c":80,"d":83,"v":0.92},{"a":0,"b":114,"c":67,"d":69,"v":0.92},{"a":0,"b":114,"c":59,"d":62,"v":0.92},{"a":0,"b":114,"c":46.7,"d":49,"v":0.92},{"a":0,"b":114,"c":40.5,"d":43,"v":0.92},{"a":0,"b":114,"c":28,"d":30.4,"v":0.92},{"a":0,"b":114,"c":22.6,"d":24,"v":0.92},{"a":0,"b":22,"c":0,"d":22,"v":0.99}],
"t6":[{"a":23,"b":31,"c":99.7,"d":107,"v":0.62},{"a":42,"b":49.5,"c":99.7,"d":107,"v":0.62},{"a":61.7,"b":69.6,"c":99.7,"d":107,"v":0.62},{"a":81,"b":88.5,"c":99.7,"d":107,"v":0.62},{"a":23,"b":31,"c":81,"d":88,"v":0.62},{"a":42,"b":49.5,"c":81,"d":88,"v":0.62},{"a":61.7,"b":69.6,"c":81,"d":88,"v":0.62},{"a":100,"b":107,"c":81,"d":88,"v":0.62},{"a":23,"b":31,"c":61.5,"d":68.5,"v":0.62},{"a":42,"b":49.5,"c":61.5,"d":68.5,"v":0.62},{"a":81,"b":88.5,"c":61.5,"d":68.5,"v":0.62},{"a":100,"b":107,"c":61.5,"d":68.5,"v":0.62},{"a":23,"b":31,"c":41.3,"d":49,"v":0.62},{"a":61.7,"b":69.6,"c":41.3,"d":49,"v":0.62},{"a":81,"b":88.5,"c":41.3,"d":49,"v":0.62},{"a":100,"b":107,"c":41.3,"d":49,"v":0.62},{"a":42,"b":49.5,"c":22.6,"d":30.4,"v":0.62},{"a":61.7,"b":69.6,"c":22.6,"d":30.4,"v":0.62},{"a":81,"b":88.5,"c":22.6,"d":30.4,"v":0.62},{"a":100,"b":107,"c":22.6,"d":30.4,"v":0.62},
{"a":25,"b":29,"c":101,"d":105,"v":0.54},{"a":44,"b":48,"c":101,"d":105,"v":0.52},{"a":63.5,"b":67.5,"c":101,"d":105,"v":0.54},{"a":83,"b":87,"c":101,"d":105,"v":0.52},{"a":25,"b":29,"c":83,"d":87,"v":0.54},{"a":44,"b":48,"c":83,"d":87,"v":0.52},{"a":63.5,"b":67.5,"c":83,"d":87,"v":0.54},{"a":102,"b":106,"c":83,"d":87,"v":0.52},{"a":25,"b":29,"c":63,"d":67,"v":0.5},{"a":44,"b":48,"c":63,"d":67,"v":0.5},{"a":83,"b":87,"c":63,"d":67,"v":0.54},{"a":102,"b":106,"c":63,"d":67,"v":0.52},{"a":25,"b":29,"c":43,"d":47,"v":0.54},{"a":63.5,"b":67.5,"c":43,"d":47,"v":0.52},{"a":83,"b":87,"c":43,"d":47,"v":0.54},{"a":102,"b":106,"c":43,"d":47,"v":0.52},{"a":44,"b":48,"c":24.5,"d":28.5,"v":0.52},{"a":63.5,"b":67.5,"c":24.5,"d":28.5,"v":0.5},{"a":83,"b":87,"c":24.5,"d":28.5,"v":0.5},{"a":102,"b":106,"c":24.5,"d":28.5,"v":0.54},
{"a":23,"b":28,"c":26,"d":31,"v":0.62},{"a":27,"b":32,"c":22,"d":27,"v":0.6},{"a":41.5,"b":46.5,"c":44.5,"d":50,"v":0.62},{"a":45.5,"b":50.5,"c":40.5,"d":45.5,"v":0.6},{"a":61,"b":66,"c":64.5,"d":70,"v":0.62},{"a":65,"b":70.5,"c":60.5,"d":65.5,"v":0.6},{"a":80.5,"b":85.5,"c":83.5,"d":89,"v":0.62},{"a":84.5,"b":90,"c":80,"d":85,"v":0.6},{"a":100,"b":105,"c":103,"d":108,"v":0.62},{"a":104,"b":109,"c":99,"d":104,"v":0.6}],
"d6":[{"a":20,"b":112,"c":20,"d":112,"v":0.98}],
"l1":[{"t":0,"b":0},{"t":2,"b":0.2},{"t":4,"b":0.9},{"t":6,"b":2},{"t":8,"b":3.5},{"t":10,"b":5},{"t":12,"b":5.9},{"t":13,"b":5.5},{"t":14,"b":6.1},{"t":15,"b":5.6},{"t":16,"b":6},{"t":17,"b":4},{"t":17.5,"b":3.5},{"t":18.5,"b":6.5},{"t":19.5,"b":5.5},{"t":20,"b":3},{"t":21,"b":1},{"t":22,"b":0.5},{"t":25,"b":0.4},{"t":30,"b":0.35},{"t":35,"b":0.35},{"t":38,"b":0.45},{"t":42,"b":0.35},{"t":48,"b":0.4},{"t":50,"b":0.3},{"t":55,"b":0.35},{"t":60,"b":0.35},{"t":62,"b":0.5},{"t":64,"b":1.2},{"t":66,"b":0.5},{"t":68,"b":0.45},{"t":70,"b":0.25},{"t":73,"b":0.4},{"t":75,"b":0.15},{"t":78,"b":0.2},{"t":80,"b":0.9},{"t":81,"b":0.2},{"t":83,"b":0.4},{"t":85,"b":0.05},{"t":87,"b":0.7},{"t":88,"b":0.4},{"t":90,"b":0.05},{"t":91,"b":0.3},{"t":92,"b":2},{"t":93,"b":5},{"t":94,"b":7.1},{"t":95,"b":5.5},{"t":96,"b":3.3},{"t":97,"b":3.5},{"t":98,"b":4.5},{"t":99,"b":3},{"t":100,"b":1.5},{"t":101,"b":0.6},{"t":103,"b":0.35},{"t":105,"b":0.3},{"t":107,"b":0.4},{"t":110,"b":0.3},{"t":113,"b":0.35},{"t":118,"b":0.3},{"t":122,"b":0.4},{"t":126,"b":0.3},{"t":130,"b":0.35},{"t":135,"b":0.3},{"t":140,"b":0.3},{"t":145,"b":0.3},{"t":150,"b":0.35},{"t":152,"b":0.5},{"t":153.5,"b":1},{"t":154.5,"b":4.1},{"t":155.5,"b":1.6},{"t":156.5,"b":4},{"t":157.5,"b":5},{"t":158.5,"b":6.6},{"t":159.5,"b":4},{"t":160.5,"b":2},{"t":161.5,"b":4.2},{"t":162.5,"b":2.2},{"t":163.5,"b":3.7},{"t":165,"b":1.5},{"t":166,"b":0.6},{"t":168,"b":0.5},{"t":170,"b":0.3},{"t":175,"b":0.35},{"t":180,"b":0.3},{"t":185,"b":0.35},{"t":190,"b":0.25},{"t":195,"b":0.3},{"t":200,"b":0.3},{"t":205,"b":0.3},{"t":210,"b":0.25},{"t":215,"b":0.35},{"t":216,"b":1},{"t":217.5,"b":2.5},{"t":218.5,"b":4.2},{"t":219.5,"b":2.3},{"t":220.5,"b":3.7},{"t":221.5,"b":5},{"t":222.5,"b":7.3},{"t":223.5,"b":5},{"t":224.5,"b":2.5},{"t":225.5,"b":4.1},{"t":226.5,"b":2.5},{"t":228,"b":1},{"t":230,"b":0.4},{"t":235,"b":0.3},{"t":238,"b":0.4},{"t":245,"b":0.3},{"t":250,"b":0.35},{"t":258,"b":0.3},{"t":265,"b":0.3},{"t":272,"b":0.25},{"t":278,"b":0.3},{"t":280,"b":0.45},{"t":281,"b":1.5},{"t":282,"b":4.2},{"t":283,"b":2.5},{"t":284,"b":1.7},{"t":285,"b":2.8},{"t":285.5,"b":0.7}],
"l2":[{"t":0,"b":1.6},{"t":3,"b":0.3},{"t":6,"b":1},{"t":9,"b":0},{"t":12,"b":0.9},{"t":15,"b":0.1},{"t":18,"b":0.8},{"t":21,"b":0},{"t":24,"b":1.1},{"t":28,"b":0.2},{"t":32,"b":1},{"t":35,"b":0.1},{"t":38,"b":0.7},{"t":50,"b":0.6},{"t":56,"b":0.85},{"t":60,"b":0.6},{"t":70,"b":0.55},{"t":72,"b":0.35},{"t":78,"b":0.6},{"t":100,"b":0.58},{"t":120,"b":0.5},{"t":128,"b":0.3},{"t":132,"b":0.52},{"t":150,"b":0.48},{"t":155,"b":0.15},{"t":158,"b":0.5},{"t":180,"b":0.45},{"t":198,"b":0.4},{"t":199,"b":0},{"t":201,"b":0.4},{"t":225,"b":0.35},{"t":250,"b":0.3},{"t":256,"b":0.15},{"t":260,"b":0.3},{"t":280,"b":0.27},{"t":285,"b":0.4},{"t":290,"b":0.22},{"t":300,"b":0.5},{"t":305,"b":0.2},{"t":315,"b":0.55},{"t":320,"b":0.15},{"t":330,"b":0.5},{"t":335,"b":0.15},{"t":345,"b":0.4},{"t":350,"b":0.12},{"t":358,"b":0.45},{"t":362,"b":0.1},{"t":370,"b":0.5},{"t":375,"b":0.15},{"t":378,"b":0.95},{"t":382,"b":0.2},{"t":390,"b":0.35},{"t":395,"b":0.1},{"t":405,"b":0.2},{"t":420,"b":0.13},{"t":430,"b":0.2},{"t":440,"b":0.1},{"t":450,"b":0.18},{"t":465,"b":0.1},{"t":480,"b":0.08},{"t":495,"b":0.05},{"t":505,"b":0},{"t":518,"b":0},{"t":521,"b":1.3},{"t":523,"b":3.7},{"t":526,"b":1.3},{"t":529,"b":3.9},{"t":532,"b":1.5},{"t":535,"b":4},{"t":538,"b":1},{"t":541,"b":4.2},{"t":544,"b":1.5},{"t":547,"b":3.6},{"t":550,"b":0.2},{"t":553,"b":3.5},{"t":556,"b":1},{"t":559,"b":3.5},{"t":562,"b":0.5},{"t":565,"b":3.4},{"t":568,"b":0.5},{"t":571,"b":4},{"t":574,"b":0.6},{"t":578,"b":0},{"t":598,"b":0},{"t":599,"b":0.2},{"t":600,"b":0},{"t":762,"b":0},{"t":766,"b":1},{"t":768,"b":3.9},{"t":771,"b":0.7},{"t":774,"b":4.3},{"t":777,"b":2.6},{"t":780,"b":4.6},{"t":783,"b":0.8},{"t":786,"b":3.9},{"t":789,"b":2.5},{"t":792,"b":4.2},{"t":795,"b":0.4},{"t":798,"b":4.3},{"t":801,"b":0},{"t":804,"b":4.1},{"t":807,"b":1.2},{"t":810,"b":4.3},{"t":813,"b":0.8},{"t":816,"b":5},{"t":819,"b":0.5},{"t":822,"b":4.4},{"t":825,"b":1.2},{"t":828,"b":4.1},{"t":831,"b":2.5},{"t":834,"b":0},{"t":995,"b":0},{"t":1000,"b":0.3},{"t":1002,"b":2},{"t":1005,"b":4.5},{"t":1008,"b":0.5},{"t":1011,"b":4.1},{"t":1014,"b":1.2},{"t":1017,"b":4.4},{"t":1020,"b":0.8},{"t":1023,"b":4.3},{"t":1026,"b":0.2},{"t":1029,"b":4.5},{"t":1032,"b":0},{"t":1035,"b":4.6},{"t":1038,"b":0.5},{"t":1041,"b":4.2},{"t":1044,"b":1.8},{"t":1047,"b":4},{"t":1050,"b":0.3},{"t":1053,"b":4.2},{"t":1056,"b":2.1},{"t":1059,"b":3.6},{"t":1062,"b":1.4},{"t":1065,"b":3}],
"l3":[{"t":0,"b":0.2},{"t":1,"b":0},{"t":3,"b":0},{"t":4,"b":0.9},{"t":6,"b":1.5},{"t":7,"b":0.8},{"t":9,"b":0},{"t":11,"b":0.7},{"t":13,"b":0.95},{"t":15,"b":0.6},{"t":17,"b":0.55},{"t":19,"b":0.3},{"t":20,"b":0.05},{"t":22,"b":0.5},{"t":24,"b":0.1},{"t":26,"b":0.05},{"t":28,"b":0.2},{"t":30,"b":0.5},{"t":32,"b":0.55},{"t":34,"b":0.4},{"t":36,"b":0.1},{"t":38,"b":0.35},{"t":40,"b":0.1},{"t":43,"b":0.1},{"t":44,"b":0.72},{"t":46,"b":0.45},{"t":48,"b":0.05},{"t":50,"b":0.1},{"t":52,"b":0.6},{"t":54,"b":0.65},{"t":56,"b":0.5},{"t":58,"b":0.1},{"t":60,"b":0.2},{"t":62,"b":0.35},{"t":64,"b":0.05},{"t":66,"b":0.62},{"t":68,"b":0.2},{"t":70,"b":0.08},{"t":72,"b":0.3},{"t":74,"b":1.15},{"t":75,"b":0.4},{"t":76,"b":0.6},{"t":78,"b":0.45},{"t":80,"b":0.2},{"t":82,"b":0.05},{"t":84,"b":0.2},{"t":86,"b":0.45},{"t":88,"b":0.35},{"t":90,"b":0.5},{"t":92,"b":0.4},{"t":94,"b":0.58},{"t":96,"b":0.2},{"t":98,"b":0.15},{"t":100,"b":0.3},{"t":102,"b":0.1},{"t":104,"b":0.3},{"t":106,"b":0.48},{"t":108,"b":0.35},{"t":110,"b":0.4},{"t":112,"b":0.3},{"t":114,"b":0.25},{"t":116,"b":0.2},{"t":118,"b":0.3},{"t":120,"b":0.1},{"t":122,"b":0.15},{"t":124,"b":0.35},{"t":126,"b":0.2},{"t":128,"b":0.25},{"t":130,"b":0.4},{"t":132,"b":0.15},{"t":134,"b":0.1},{"t":136,"b":0.2},{"t":138,"b":0.05},{"t":140,"b":0},{"t":142,"b":0.1},{"t":144,"b":0.2},{"t":146,"b":0},{"t":148,"b":0.1},{"t":150,"b":0.05},{"t":152,"b":0.12},{"t":154,"b":0},{"t":156,"b":0.02},{"t":158,"b":0.05},{"t":162,"b":0.1},{"t":164,"b":0.35},{"t":166,"b":0.15},{"t":168,"b":0.2},{"t":170,"b":0.35},{"t":172,"b":0.6},{"t":174,"b":0.3},{"t":176,"b":0.55},{"t":178,"b":0.35},{"t":180,"b":0.65},{"t":182,"b":0.45},{"t":184,"b":0.75},{"t":186,"b":0.3},{"t":188,"b":0.2},{"t":190,"b":0.35},{"t":192,"b":0.25},{"t":194,"b":1},{"t":196,"b":1.55},{"t":198,"b":1.1},{"t":200,"b":1.4},{"t":202,"b":0.6},{"t":204,"b":1},{"t":206,"b":1.75},{"t":208,"b":1.4},{"t":210,"b":1.2},{"t":212,"b":1},{"t":214,"b":0.75},{"t":216,"b":2.05},{"t":217,"b":1.55},{"t":219,"b":2.2},{"t":221,"b":1.1},{"t":223,"b":0.8},{"t":225,"b":0.65},{"t":227,"b":0.9},{"t":229,"b":0.8},{"t":231,"b":0.95},{"t":233,"b":0.85},{"t":235,"b":0.75},{"t":237,"b":1.05},{"t":239,"b":0.7},{"t":241,"b":1.05},{"t":243,"b":0.85},{"t":245,"b":0.9},{"t":247,"b":0.75},{"t":249,"b":0.5},{"t":251,"b":0.6},{"t":253,"b":0.8},{"t":255,"b":1.2},{"t":257,"b":0.85},{"t":259,"b":1.35},{"t":261,"b":0.7},{"t":263,"b":1.55},{"t":265,"b":1.1},{"t":267,"b":1.45},{"t":269,"b":1.15},{"t":271,"b":1.05},{"t":273,"b":1.5},{"t":275,"b":2.2},{"t":277,"b":2.05},{"t":279,"b":2.55},{"t":281,"b":2.62},{"t":283,"b":2.4},{"t":285,"b":1.5},{"t":287,"b":1.75},{"t":289,"b":1.2},{"t":291,"b":2.25},{"t":293,"b":1.5},{"t":295,"b":1.85},{"t":297,"b":1.2},{"t":299,"b":0.8},{"t":301,"b":0.4},{"t":303,"b":2},{"t":305,"b":2.1},{"t":307,"b":1.5},{"t":309,"b":0.85},{"t":311,"b":1.65},{"t":313,"b":1},{"t":315,"b":0.9},{"t":317,"b":1.2},{"t":319,"b":2.1},{"t":321,"b":0.9},{"t":323,"b":0.65},{"t":325,"b":0.8},{"t":327,"b":0.7},{"t":329,"b":1.2},{"t":331,"b":0.85},{"t":333,"b":0.6},{"t":335,"b":1.6},{"t":337,"b":0.75},{"t":339,"b":0.55},{"t":341,"b":1.1},{"t":343,"b":0.95},{"t":345,"b":1.2},{"t":347,"b":2.4},{"t":349,"b":1.6},{"t":351,"b":0.7},{"t":353,"b":0.6},{"t":355,"b":0.45},{"t":357,"b":0.6},{"t":359,"b":0.85},{"t":361,"b":0.7},{"t":363,"b":0.85},{"t":365,"b":0.6},{"t":367,"b":1.45},{"t":369,"b":1},{"t":371,"b":1.6},{"t":373,"b":1},{"t":375,"b":0.6},{"t":377,"b":1.4},{"t":379,"b":0.9},{"t":381,"b":0.5},{"t":383,"b":1},{"t":385,"b":1.85},{"t":387,"b":0.7},{"t":389,"b":1.4},{"t":391,"b":1.1},{"t":393,"b":0.45},{"t":395,"b":0.4},{"t":397,"b":0.9},{"t":399,"b":0.7},{"t":401,"b":1},{"t":403,"b":0.5},{"t":405,"b":1.1},{"t":407,"b":2.1},{"t":409,"b":0.75},{"t":411,"b":1.1},{"t":413,"b":0.8},{"t":415,"b":0.9},{"t":417,"b":1.5},{"t":419,"b":2.3},{"t":421,"b":2.45},{"t":423,"b":1.1},{"t":425,"b":1.7},{"t":427,"b":1.6},{"t":429,"b":2.1},{"t":431,"b":2.5},{"t":433,"b":2.62},{"t":435,"b":2.55},{"t":435.5,"b":0.6}],
"l4":[{"t":0,"b":0.35},{"t":1,"b":0.5},{"t":2,"b":0.75},{"t":3,"b":0.55},{"t":3.5,"b":1.8},{"t":4,"b":7},{"t":4.7,"b":8.2},{"t":5.3,"b":4.5},{"t":6,"b":2.5},{"t":7,"b":1.3},{"t":8.5,"b":1.3},{"t":10,"b":0.3},{"t":12,"b":0.1},{"t":13,"b":0.1},{"t":14.7,"b":0.7},{"t":16,"b":0.1},{"t":18,"b":0.2},{"t":19.5,"b":0.65},{"t":21,"b":0.1},{"t":23,"b":0},{"t":24,"b":0.3},{"t":26,"b":1.05},{"t":27,"b":0.95},{"t":29,"b":0},{"t":32,"b":0},{"t":33,"b":1},{"t":34.3,"b":1.2},{"t":35.5,"b":0.4},{"t":37,"b":0},{"t":39,"b":0.3},{"t":40,"b":0},{"t":45.5,"b":0},{"t":46,"b":2},{"t":47,"b":7.3},{"t":48.3,"b":7.6},{"t":49,"b":4},{"t":50,"b":1.2},{"t":51.5,"b":1},{"t":53,"b":0.4},{"t":55,"b":0},{"t":57,"b":0},{"t":58.5,"b":0.7},{"t":60,"b":0.1},{"t":61,"b":0.15},{"t":62,"b":0},{"t":67,"b":0},{"t":69,"b":0.7},{"t":70,"b":0.75},{"t":72,"b":0},{"t":77,"b":0},{"t":78,"b":1.5},{"t":79,"b":5},{"t":79.8,"b":8.6},{"t":80.5,"b":7},{"t":81.5,"b":2.5},{"t":82.5,"b":1},{"t":84,"b":0.9},{"t":85.5,"b":0.2},{"t":87,"b":0},{"t":88.5,"b":0.35},{"t":90,"b":0.15},{"t":91,"b":0.3},{"t":93,"b":0.05},{"t":96,"b":0.2},{"t":97,"b":0},{"t":99,"b":0},{"t":101,"b":0.75},{"t":102.5,"b":0.3},{"t":104,"b":0},{"t":108,"b":0},{"t":109.5,"b":1.2},{"t":110.5,"b":5},{"t":111.3,"b":8.7},{"t":112,"b":6},{"t":113,"b":2.5},{"t":114.5,"b":1},{"t":116,"b":0.8},{"t":117,"b":0.1},{"t":118.5,"b":0.9},{"t":120,"b":0},{"t":122,"b":0.4},{"t":123.5,"b":0},{"t":125,"b":0.2},{"t":127,"b":0},{"t":131,"b":0},{"t":133.5,"b":0.8},{"t":135,"b":0.4},{"t":136,"b":0},{"t":140,"b":0},{"t":141,"b":1.5},{"t":142.5,"b":6.7},{"t":143.5,"b":5},{"t":145,"b":1.5},{"t":146,"b":1},{"t":147,"b":0.5},{"t":148.5,"b":0.85},{"t":150,"b":0.3},{"t":151.5,"b":0},{"t":152.5,"b":0.4},{"t":154,"b":0.1},{"t":156,"b":0.15},{"t":158,"b":0.1},{"t":159,"b":0.3},{"t":160,"b":0},{"t":162,"b":0},{"t":163.5,"b":0.8},{"t":165,"b":0.6},{"t":166.5,"b":0},{"t":168,"b":0},{"t":170,"b":0.7},{"t":171,"b":3},{"t":172,"b":7.4},{"t":172.5,"b":5}],
"l5":[{"t":0,"b":2.1},{"t":1.5,"b":2.53},{"t":3,"b":2.45},{"t":5,"b":2.53},{"t":7,"b":2.47},{"t":8,"b":2.58},{"t":9,"b":2.38},{"t":11,"b":2.92},{"t":12,"b":2.6},{"t":13.5,"b":1.2},{"t":14.5,"b":0.25},{"t":16,"b":0.15},{"t":18,"b":0.08},{"t":19,"b":0.1},{"t":21,"b":0},{"t":24,"b":0},{"t":25,"b":0.1},{"t":26,"b":0.2},{"t":27,"b":1},{"t":27.5,"b":2.5},{"t":29,"b":2.75},{"t":30,"b":2.85},{"t":30.2,"b":2.87},{"t":31,"b":1.5},{"t":31.5,"b":0.2},{"t":33,"b":0.18},{"t":35,"b":0.05},{"t":37,"b":0.05},{"t":39,"b":0},{"t":42,"b":0},{"t":44,"b":0.1},{"t":46,"b":1.9},{"t":47,"b":2.8},{"t":49,"b":2.8},{"t":50,"b":2.5},{"t":51,"b":1.3},{"t":52,"b":0.25},{"t":54,"b":0.12},{"t":55,"b":0},{"t":56,"b":0.05},{"t":58,"b":0},{"t":60,"b":0},{"t":63,"b":0},{"t":64,"b":0.1},{"t":65,"b":0.5},{"t":66,"b":1.5},{"t":67,"b":2.9},{"t":69,"b":2.88},{"t":70,"b":2.7},{"t":71,"b":1.3},{"t":72,"b":0.18},{"t":74,"b":0.18},{"t":76,"b":0.05},{"t":79,"b":0},{"t":83,"b":0},{"t":85,"b":0.15},{"t":86,"b":1.3},{"t":87.3,"b":2.9},{"t":89,"b":2.65},{"t":90,"b":1.3},{"t":91,"b":0.17},{"t":93,"b":0.2},{"t":95,"b":0.05},{"t":98,"b":0},{"t":101,"b":0},{"t":102,"b":0.15},{"t":103,"b":1.2},{"t":104,"b":2.4},{"t":105,"b":2.83},{"t":106,"b":2.75},{"t":106.5,"b":1.55}],
"l6":[{"t":0,"b":1.37},{"t":2,"b":1.37},{"t":4,"b":1.39},{"t":6,"b":1.35},{"t":7,"b":1.39},{"t":9,"b":1.37},{"t":12,"b":1.37},{"t":14,"b":1.38},{"t":17,"b":1.4},{"t":18,"b":1.54},{"t":19,"b":1.52},{"t":20,"b":1.45},{"t":21,"b":1.45},{"t":22,"b":1.2},{"t":24,"b":0.6},{"t":25,"b":0.18},{"t":26,"b":0.08},{"t":28,"b":0.07},{"t":29,"b":0.2},{"t":30,"b":0.65},{"t":31,"b":0.8},{"t":32,"b":1.3},{"t":34,"b":1.42},{"t":35,"b":1.4},{"t":36,"b":1.42},{"t":37,"b":1.5},{"t":38,"b":1.5},{"t":39,"b":1.6},{"t":40,"b":1.3},{"t":41,"b":1},{"t":42,"b":0.75},{"t":43,"b":0.3},{"t":44,"b":0.06},{"t":46,"b":0.06},{"t":47,"b":0.12},{"t":48,"b":0.4},{"t":49,"b":0.6},{"t":50,"b":1},{"t":51,"b":1.4},{"t":52,"b":1.45},{"t":54,"b":1.44},{"t":56,"b":1.47},{"t":58,"b":1.52},{"t":59,"b":1.5},{"t":60,"b":1.2},{"t":61,"b":0.7},{"t":62,"b":0.55},{"t":63,"b":0.2},{"t":64,"b":0.07},{"t":66,"b":0.06},{"t":67,"b":0.2},{"t":68,"b":0.5},{"t":69,"b":0.75},{"t":70,"b":1.2},{"t":71,"b":1.42},{"t":72,"b":1.45},{"t":73,"b":1.44},{"t":75,"b":1.48},{"t":76,"b":1.52},{"t":78,"b":1.5},{"t":79,"b":1.46},{"t":80,"b":1.1},{"t":81,"b":0.8},{"t":82,"b":0.45},{"t":83,"b":0.08},{"t":85,"b":0.06},{"t":86,"b":0.08},{"t":87,"b":0.4},{"t":88,"b":0.7},{"t":89,"b":1},{"t":90,"b":1.33},{"t":91,"b":1.42},{"t":93,"b":1.46},{"t":95,"b":1.42},{"t":96,"b":1.44},{"t":98,"b":1.4},{"t":99,"b":1.1},{"t":100,"b":0.75},{"t":101,"b":0.55},{"t":102,"b":0.18},{"t":103,"b":0.08},{"t":105,"b":0.07},{"t":106,"b":0.3},{"t":107,"b":0.78},{"t":108,"b":0.95},{"t":109,"b":1.35},{"t":110,"b":1.52},{"t":111,"b":1.45},{"t":112,"b":1.4},{"t":113,"b":1.45},{"t":114,"b":1.25}]
},
"columns":3,"spacing":{"column":135,"row":40},"bounds":"flush","resolve":{"scale":{"color":"independent"},"legend":{"color":"independent"}},
"concat":[
{"title":"barnes, 16 nodes","width":311,"height":244,"encoding":{"x":{"field":"a","type":"quantitative","title":null,"scale":{"domain":[0,285.5],"nice":false},"axis":{"values":[0,50,100,150,200,250]}},"x2":{"field":"b"},"y":{"field":"c","type":"quantitative","title":null,"scale":{"domain":[0,285.5],"nice":false},"axis":{"values":[0,50,100,150,200,250]}},"y2":{"field":"d"},"color":{"field":"v","type":"quantitative","title":null,"scale":{"domain":[0,1],"range":["#000","#fff"]},"legend":{"values":[0,0.2,0.4,0.6,0.8,1],"format":"~g","gradientOpacity":1,"encoding":{"gradient":{"opacity":{"value":1}},"labels":{"baseline":{"value":"middle"}}}}}},
"layer":[{"data":{"name":"h1"},"mark":"rect"},{"data":{"name":"p1"},"mark":{"type":"rect","opacity":0.35}},{"data":{"name":"t1"},"mark":"rect"},{"data":{"name":"d1"},"mark":{"type":"rule","strokeWidth":1},"encoding":{"color":{"value":"#fff"},"stroke":{"field":"v","type":"quantitative","legend":null,"scale":{"domain":[0,1],"range":["#000","#fff"]}}}},{"data":{"values":[{"a":0,"b":285.5,"c":0,"d":285.5}]},"mark":{"type":"rect","stroke":"#666","strokeWidth":1},"encoding":{"color":{"value":"transparent"}}}]},
{"title":"fft4M, 16 nodes","width":311,"height":244,"encoding":{"x":{"field":"a","type":"quantitative","title":null,"scale":{"domain":[0,1065],"nice":false},"axis":{"values":[0,200,400,600,800,1000],"format":"d"}},"x2":{"field":"b"},"y":{"field":"c","type":"quantitative","title":null,"scale":{"domain":[0,1065],"nice":false},"axis":{"values":[0,200,400,600,800,1000],"format":"d"}},"y2":{"field":"d"},"color":{"field":"v","type":"quantitative","title":null,"scale":{"domain":[0,1],"range":["#000","#fff"]},"legend":{"values":[0,0.2,0.4,0.6,0.8,1],"format":"~g","gradientOpacity":1,"encoding":{"gradient":{"opacity":{"value":1}},"labels":{"baseline":{"value":"middle"}}}}}},
"layer":[{"data":{"name":"h2"},"mark":"rect"},{"data":{"name":"p2"},"mark":{"type":"rect","opacity":0.5}},{"data":{"name":"t2"},"mark":"rect"},{"data":{"name":"d2"},"mark":{"type":"rule","strokeWidth":1.2},"encoding":{"color":{"value":"#fff"},"stroke":{"field":"v","type":"quantitative","legend":null,"scale":{"domain":[0,1],"range":["#000","#fff"]}}}},{"data":{"values":[{"a":0,"b":1065,"c":0,"d":1065}]},"mark":{"type":"rect","stroke":"#666","strokeWidth":1},"encoding":{"color":{"value":"transparent"}}}]},
{"title":"cholesky29, 16 nodes","width":311,"height":244,"encoding":{"x":{"field":"a","type":"quantitative","title":null,"scale":{"domain":[0,436],"nice":false},"axis":{"values":[0,50,100,150,200,250,300,350,400]}},"x2":{"field":"b"},"y":{"field":"c","type":"quantitative","title":null,"scale":{"domain":[0,436],"nice":false},"axis":{"values":[0,50,100,150,200,250,300,350,400]}},"y2":{"field":"d"},"color":{"field":"v","type":"quantitative","title":null,"scale":{"domain":[0,1],"range":["#000","#fff"]},"legend":{"values":[0,0.2,0.4,0.6,0.8,1],"format":"~g","gradientOpacity":1,"encoding":{"gradient":{"opacity":{"value":1}},"labels":{"baseline":{"value":"middle"}}}}}},
"layer":[{"data":{"name":"h3"},"mark":"rect"},{"data":{"name":"p3"},"mark":{"type":"rect","opacity":0.25}},{"data":{"name":"t3"},"mark":"rect"},{"data":{"name":"d3"},"mark":{"type":"rule","strokeWidth":1.3},"encoding":{"color":{"value":"#fff"},"stroke":{"field":"v","type":"quantitative","legend":null,"scale":{"domain":[0,1],"range":["#000","#fff"]}}}},{"data":{"values":[{"a":0,"b":436,"c":0,"d":436}]},"mark":{"type":"rect","stroke":"#666","strokeWidth":1},"encoding":{"color":{"value":"transparent"}}}]},
{"width":311,"height":121,"data":{"name":"l1"},"mark":{"type":"line","color":"#222","strokeWidth":0.8,"clip":true},"encoding":{"x":{"field":"t","type":"quantitative","title":"Simulation time (M cycles)","scale":{"domain":[0,285.5],"nice":false},"axis":{"values":[0,50,100,150,200,250]}},"y":{"field":"b","type":"quantitative","title":"Per node bandwidth","scale":{"domain":[0,8],"nice":false},"axis":{"values":[0,1,2,3,4,5,6,7,8],"titleX":-32,"titleY":60.5}}}},
{"width":311,"height":121,"data":{"name":"l2"},"mark":{"type":"line","color":"#222","strokeWidth":0.8,"clip":true},"encoding":{"x":{"field":"t","type":"quantitative","title":"Simulation time (M cycles)","scale":{"domain":[0,1065],"nice":false},"axis":{"values":[0,200,400,600,800,1000],"format":"d"}},"y":{"field":"b","type":"quantitative","title":"Per node bandwidth","scale":{"domain":[0,6],"nice":false},"axis":{"values":[0,1,2,3,4,5,6],"titleX":-33,"titleY":60.5}}}},
{"width":311,"height":121,"data":{"name":"l3"},"mark":{"type":"line","color":"#222","strokeWidth":0.8,"clip":true},"encoding":{"x":{"field":"t","type":"quantitative","title":"Simulation time (M cycles)","scale":{"domain":[0,436],"nice":false},"axis":{"values":[0,50,100,150,200,250,300,350,400]}},"y":{"field":"b","type":"quantitative","title":"Per node bandwidth","scale":{"domain":[0,3],"nice":false},"axis":{"values":[0,0.5,1,1.5,2,2.5,3],"format":"~g","titleX":-46,"titleY":60.5}}}},
{"width":311,"height":11,"view":{"stroke":null},"data":{"values":[]},"mark":"rect","encoding":{}},
{"width":311,"height":11,"view":{"stroke":null},"data":{"values":[]},"mark":"rect","encoding":{}},
{"width":311,"height":11,"view":{"stroke":null},"data":{"values":[]},"mark":"rect","encoding":{}},
{"title":"water.sp, 16 nodes","width":311,"height":244,"encoding":{"x":{"field":"a","type":"quantitative","title":null,"scale":{"domain":[0,172],"nice":false},"axis":{"values":[0,20,40,60,80,100,120,140,160]}},"x2":{"field":"b"},"y":{"field":"c","type":"quantitative","title":null,"scale":{"domain":[0,172],"nice":false},"axis":{"values":[0,20,40,60,80,100,120,140,160]}},"y2":{"field":"d"},"color":{"field":"v","type":"quantitative","title":null,"scale":{"domain":[0,1],"range":["#000","#fff"]},"legend":{"values":[0,0.2,0.4,0.6,0.8,1],"format":"~g","gradientOpacity":1,"encoding":{"gradient":{"opacity":{"value":1}},"labels":{"baseline":{"value":"middle"}}}}}},
"layer":[{"data":{"name":"h4"},"mark":"rect"},{"data":{"name":"p4"},"mark":{"type":"rect","opacity":0.3}},{"data":{"name":"t4"},"mark":"rect"},{"data":{"name":"d4"},"mark":{"type":"rule","strokeWidth":1.5},"encoding":{"color":{"value":"#fff"},"stroke":{"field":"v","type":"quantitative","legend":null,"scale":{"domain":[0,1],"range":["#000","#fff"]}}}},{"data":{"values":[{"a":0,"b":172,"c":0,"d":172}]},"mark":{"type":"rect","stroke":"#666","strokeWidth":1},"encoding":{"color":{"value":"transparent"}}}]},
{"title":"water.sp, 32 nodes","width":311,"height":244,"encoding":{"x":{"field":"a","type":"quantitative","title":null,"scale":{"domain":[0,106.5],"nice":false},"axis":{"values":[0,20,40,60,80,100]}},"x2":{"field":"b"},"y":{"field":"c","type":"quantitative","title":null,"scale":{"domain":[0,106.5],"nice":false},"axis":{"values":[0,20,40,60,80,100]}},"y2":{"field":"d"},"color":{"field":"v","type":"quantitative","title":null,"scale":{"domain":[0,1],"range":["#000","#fff"]},"legend":{"values":[0,0.2,0.4,0.6,0.8,1],"format":"~g","encoding":{"labels":{"baseline":{"value":"middle"}}}}}},
"layer":[{"data":{"name":"h5"},"mark":"rect"},{"data":{"name":"t5"},"mark":"rect"},{"data":{"name":"d5"},"mark":{"type":"rule","strokeWidth":2},"encoding":{"color":{"value":"#fff"},"stroke":{"field":"v","type":"quantitative","legend":null,"scale":{"domain":[0,1],"range":["#000","#fff"]}}}},{"data":{"values":[{"a":0,"b":106.5,"c":0,"d":106.5}]},"mark":{"type":"rect","stroke":"#666","strokeWidth":1},"encoding":{"color":{"value":"transparent"}}}]},
{"title":"water.sp, 64 nodes","width":311,"height":244,"encoding":{"x":{"field":"a","type":"quantitative","title":null,"scale":{"domain":[0,114],"nice":false},"axis":{"values":[0,20,40,60,80,100]}},"x2":{"field":"b"},"y":{"field":"c","type":"quantitative","title":null,"scale":{"domain":[0,114],"nice":false},"axis":{"values":[0,20,40,60,80,100]}},"y2":{"field":"d"},"color":{"field":"v","type":"quantitative","title":null,"scale":{"domain":[0,1],"range":["#000","#fff"]},"legend":{"values":[0,0.2,0.4,0.6,0.8,1],"format":"~g","encoding":{"labels":{"baseline":{"value":"middle"}}}}}},
"layer":[{"data":{"name":"h6"},"mark":"rect"},{"data":{"name":"t6"},"mark":"rect"},{"data":{"name":"d6"},"mark":{"type":"rule","strokeWidth":2},"encoding":{"color":{"value":"#fff"},"stroke":{"field":"v","type":"quantitative","legend":null,"scale":{"domain":[0,1],"range":["#000","#fff"]}}}},{"data":{"values":[{"a":0,"b":114,"c":0,"d":114}]},"mark":{"type":"rect","stroke":"#666","strokeWidth":1},"encoding":{"color":{"value":"transparent"}}}]},
{"width":311,"height":121,"data":{"name":"l4"},"mark":{"type":"line","color":"#222","strokeWidth":0.8,"clip":true},"encoding":{"x":{"field":"t","type":"quantitative","title":"Simulation time (M cycles)","scale":{"domain":[0,172.5],"nice":false},"axis":{"values":[0,20,40,60,80,100,120,140,160]}},"y":{"field":"b","type":"quantitative","title":"Per node bandwidth","scale":{"domain":[0,9],"nice":false},"axis":{"values":[0,1,2,3,4,5,6,7,8,9],"titleX":-32,"titleY":60.5}}}},
{"width":311,"height":121,"data":{"name":"l5"},"mark":{"type":"line","color":"#222","strokeWidth":0.8,"clip":true},"encoding":{"x":{"field":"t","type":"quantitative","title":"Simulation time (M cycles)","scale":{"domain":[0,106.5],"nice":false},"axis":{"values":[0,20,40,60,80,100]}},"y":{"field":"b","type":"quantitative","title":"Per node bandwidth","scale":{"domain":[0,3],"nice":false},"axis":{"values":[0,0.5,1,1.5,2,2.5,3],"format":"~g","titleX":-45,"titleY":60.5}}}},
{"width":311,"height":121,"data":{"name":"l6"},"mark":{"type":"line","color":"#222","strokeWidth":0.8,"clip":true},"encoding":{"x":{"field":"t","type":"quantitative","title":"Simulation time (M cycles)","scale":{"domain":[0,114],"nice":false},"axis":{"values":[0,20,40,60,80,100]}},"y":{"field":"b","type":"quantitative","title":"Per node bandwidth","scale":{"domain":[0,1.8],"nice":false},"axis":{"values":[0,0.2,0.4,0.6,0.8,1,1.2,1.4,1.6,1.8],"format":"~g","titleX":-46,"titleY":60.5}}}}
]}
